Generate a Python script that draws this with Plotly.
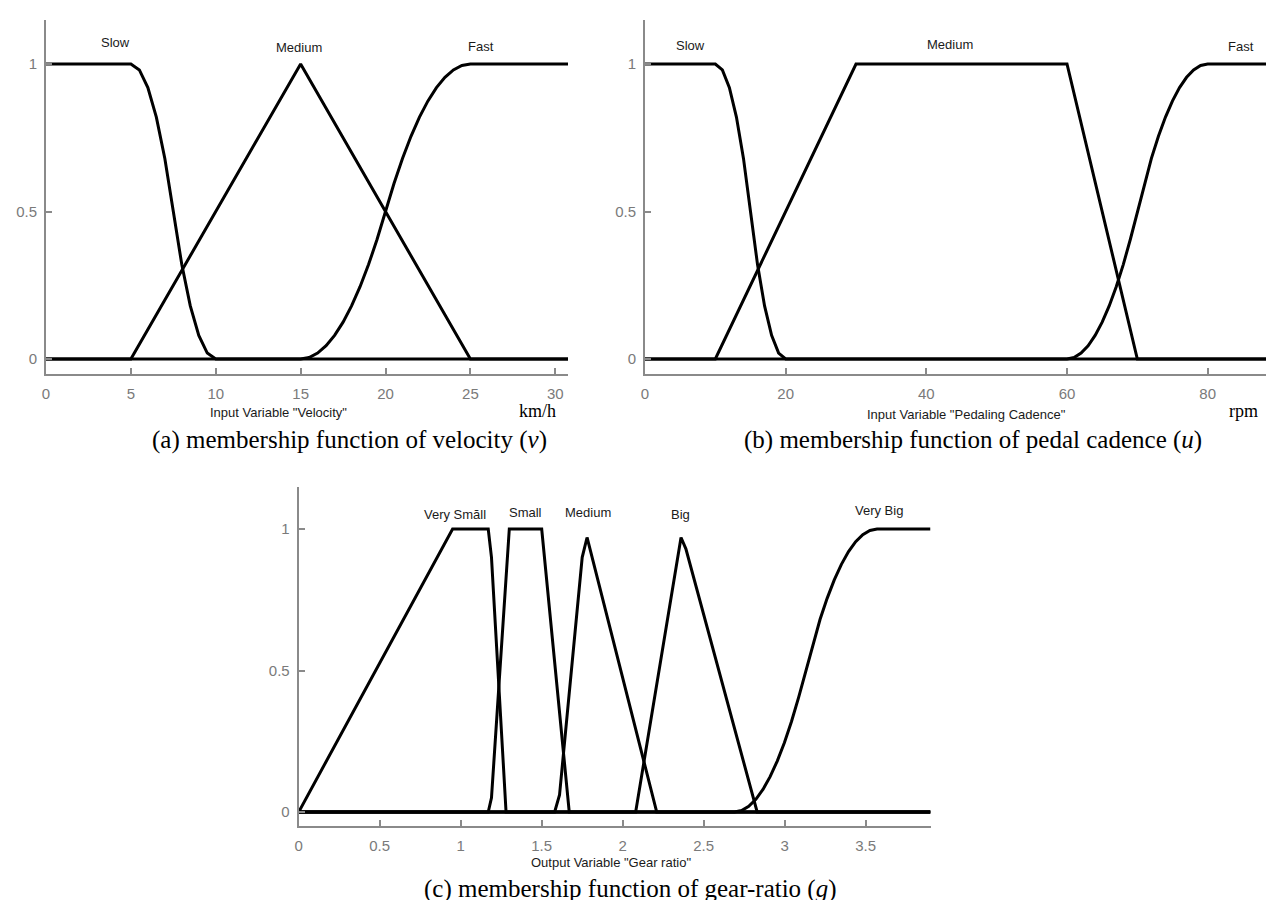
import plotly.graph_objects as go

W, H = 1274, 900

# ---------------- data ----------------
# (a) velocity
vel_slow_x = [0, 5, 5.5, 6, 6.5, 7, 7.5, 8, 8.5, 9, 9.5, 10, 30.75]
vel_slow_y = [1, 1, 0.98, 0.92, 0.82, 0.68, 0.5, 0.32, 0.18, 0.08, 0.02, 0, 0]
vel_med_x = [0, 5, 15, 25, 30.75]
vel_med_y = [0, 0, 1, 0, 0]
vel_fast_x = [0, 15, 15.5, 16, 16.5, 17, 17.5, 18, 18.5, 19, 19.5, 20, 20.5, 21,
              21.5, 22, 22.5, 23, 23.5, 24, 24.5, 25, 30.75]
vel_fast_y = [0, 0, 0.005, 0.02, 0.045, 0.08, 0.125, 0.18, 0.245, 0.32, 0.405, 0.5,
              0.595, 0.68, 0.755, 0.82, 0.875, 0.92, 0.955, 0.98, 0.995, 1, 1]
vel_names = ["Slow", "Medium", "Fast"]
vel_ticks = [0, 5, 10, 15, 20, 25, 30]

# (b) pedaling cadence
cad_slow_x = [0, 10, 11, 12, 13, 14, 15, 16, 17, 18, 19, 20, 90]
cad_slow_y = [1, 1, 0.98, 0.92, 0.82, 0.68, 0.5, 0.32, 0.18, 0.08, 0.02, 0, 0]
cad_med_x = [0, 10, 30, 60, 70, 90]
cad_med_y = [0, 0, 1, 1, 0, 0]
cad_fast_x = [0, 60, 61, 62, 63, 64, 65, 66, 67, 68, 69, 70, 71, 72, 73, 74, 75,
              76, 77, 78, 79, 80, 90]
cad_fast_y = [0, 0, 0.005, 0.02, 0.045, 0.08, 0.125, 0.18, 0.245, 0.32, 0.405, 0.5,
              0.595, 0.68, 0.755, 0.82, 0.875, 0.92, 0.955, 0.98, 0.995, 1, 1]
cad_names = ["Slow", "Medium", "Fast"]
cad_ticks = [0, 20, 40, 60, 80]

# (c) gear ratio
g_vs_x = [0, 0.95, 1.17, 1.19, 1.28, 3.9]
g_vs_y = [0, 1, 1, 0.9, 0, 0]
g_s_x = [0, 1.17, 1.19, 1.30, 1.50, 1.67, 3.9]
g_s_y = [0, 0, 0.05, 1, 1, 0, 0]
g_m_x = [0, 1.58, 1.61, 1.75, 1.78, 2.21, 3.9]
g_m_y = [0, 0, 0.06, 0.9, 0.97, 0, 0]
g_b_x = [0, 2.08, 2.36, 2.39, 2.83, 3.9]
g_b_y = [0, 0, 0.97, 0.93, 0, 0]
g_vb_x = [0, 2.69, 2.734, 2.778, 2.822, 2.866, 2.91, 2.954, 2.998, 3.042, 3.086, 3.13,
          3.174, 3.218, 3.262, 3.306, 3.35, 3.394, 3.438, 3.482, 3.526, 3.57, 3.9]
g_vb_y = [0, 0, 0.005, 0.02, 0.045, 0.08, 0.125, 0.18, 0.245, 0.32, 0.405, 0.5,
          0.595, 0.68, 0.755, 0.82, 0.875, 0.92, 0.955, 0.98, 0.995, 1, 1]
g_names = ["Very Sma\u0306ll", "Small", "Medium", "Big", "Very Big"]
g_ticks = [0, 0.5, 1, 1.5, 2, 2.5, 3, 3.5]

y_ticks = [0, 0.5, 1]
y_ticktext = ["0", "0.5", "1"]

# ---------------- layout helpers ----------------
def px_x(p):
    return p / W

def px_y(p):
    return 1 - p / H

AXIS_GRAY = "#8a8a8a"
TICK_FONT = dict(family="Liberation Sans, Arial", size=15, color="#7a7a7a")
LBL_FONT = dict(family="Liberation Sans, Arial", size=13, color="#1a1a1a")
SERIF = "Liberation Serif, Times New Roman"
LINE = dict(color="black", width=3)

fig = go.Figure()

panels = [
    ("x", "y", [(vel_slow_x, vel_slow_y), (vel_med_x, vel_med_y), (vel_fast_x, vel_fast_y)]),
    ("x2", "y2", [(cad_slow_x, cad_slow_y), (cad_med_x, cad_med_y), (cad_fast_x, cad_fast_y)]),
    ("x3", "y3", [(g_vs_x, g_vs_y), (g_s_x, g_s_y), (g_m_x, g_m_y), (g_b_x, g_b_y),
                  (g_vb_x, g_vb_y)]),
]
for xa, ya, series in panels:
    for sx, sy in series:
        fig.add_trace(go.Scatter(x=sx, y=sy, mode="lines", line=LINE, xaxis=xa, yaxis=ya,
                                 showlegend=False, hoverinfo="skip"))

def xaxis_cfg(domain, rng, ticks, anchor):
    return dict(domain=domain, range=rng, tickvals=ticks, ticks="inside", ticklen=6,
                tickwidth=1.5, tickcolor=AXIS_GRAY, showline=True, linecolor=AXIS_GRAY,
                linewidth=2, showgrid=False, zeroline=False, tickfont=TICK_FONT,
                anchor=anchor, ticklabelstandoff=5, fixedrange=True, automargin=False)

def yaxis_cfg(domain, anchor):
    return dict(domain=domain, range=[-0.05, 1.15], tickvals=y_ticks, ticktext=y_ticktext,
                ticks="inside", ticklen=6, tickwidth=1.5, tickcolor=AXIS_GRAY,
                showline=True, linecolor=AXIS_GRAY, linewidth=2, showgrid=False,
                zeroline=False, tickfont=TICK_FONT, anchor=anchor, ticklabelstandoff=4,
                fixedrange=True, automargin=False)

ab_y = [px_y(365.75), px_y(11.75)]
c_y = [px_y(818.15), px_y(478.55)]

fig.update_layout(
    template="none",
    width=W, height=H, margin=dict(l=0, r=0, t=0, b=0, autoexpand=False),
    paper_bgcolor="white", plot_bgcolor="white",
    xaxis=xaxis_cfg([px_x(38), px_x(560)], [0, 30.75], vel_ticks, "y"),
    yaxis=yaxis_cfg(ab_y, "x"),
    xaxis2=xaxis_cfg([px_x(637), px_x(1270)], [0, 90], cad_ticks, "y2"),
    yaxis2=yaxis_cfg(ab_y, "x2"),
    xaxis3=xaxis_cfg([px_x(290.7), px_x(922.5)], [0, 3.9], g_ticks, "y3"),
    yaxis3=yaxis_cfg(c_y, "x3"),
)

ann = []
# membership function labels (positions in data units of each panel)
lbl_pos = {
    "x": [(4.09, 1.074), (14.9, 1.055), (25.6, 1.06)],
    "x2": [(6.4, 1.063), (43.4, 1.065), (84.7, 1.06)],
    "x3": [(0.967, 1.05), (1.397, 1.059), (1.784, 1.058), (2.359, 1.052), (3.585, 1.064)],
}
for (xa, ya, names) in [("x", "y", vel_names), ("x2", "y2", cad_names), ("x3", "y3", g_names)]:
    for name, (lx, ly) in zip(names, lbl_pos[xa]):
        ann.append(dict(x=lx, y=ly, xref=xa, yref=ya, text=name, showarrow=False,
                        font=LBL_FONT, xanchor="center", yanchor="middle"))

# axis titles
for text, cx, cy in [('Input Variable "Velocity"', 270, 405),
                     ('Input Variable "Pedaling Cadence"', 958, 406),
                     ('Output Variable "Gear ratio"', 603, 854)]:
    ann.append(dict(x=px_x(cx), y=px_y(cy), xref="paper", yref="paper", text=text,
                    showarrow=False, font=LBL_FONT, xanchor="center", yanchor="middle"))

# units
for text, cx, cy in [("km/h", 529, 403), ("rpm", 1235, 403)]:
    ann.append(dict(x=px_x(cx), y=px_y(cy), xref="paper", yref="paper", text=text,
                    showarrow=False, font=dict(family=SERIF, size=18, color="black"),
                    xanchor="center", yanchor="middle"))

# captions
CAP_FONT = dict(family=SERIF, size=25, color="black")
for text, cx, cy, anchor in [("(a) membership function of velocity (<i>v</i>)", 142, 432, "left"),
                             ("(b) membership function of pedal cadence (<i>u</i>)", 965, 432, "center"),
                             ("(c) membership function of gear-ratio (<i>g</i>)", 622, 881, "center")]:
    ann.append(dict(x=px_x(cx), y=px_y(cy), xref="paper", yref="paper", text=text,
                    showarrow=False, font=CAP_FONT, xanchor=anchor, yanchor="middle"))

fig.update_layout(annotations=ann)
fig.write_html("out.html")
